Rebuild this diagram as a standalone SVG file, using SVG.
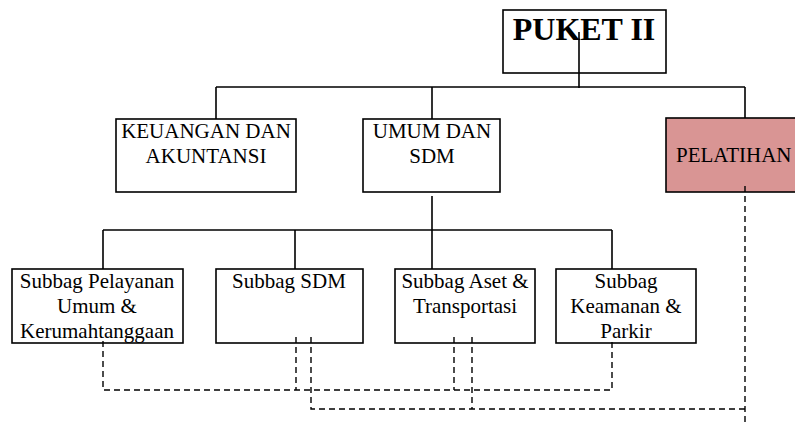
<svg xmlns="http://www.w3.org/2000/svg" width="795" height="425" viewBox="0 0 795 425">
<style>
.box{fill:#fff;stroke:#000;stroke-width:1.6}
.pink{fill:#d99594;stroke:#000;stroke-width:1.6}
text{font-family:"Liberation Serif","Times New Roman",serif;font-size:21px;fill:#000}
.title{font-size:32px;font-weight:bold}
.solid{fill:none;stroke:#000;stroke-width:1.6}
.dash{fill:none;stroke:#000;stroke-width:1.4;stroke-dasharray:6,4}
</style>
<rect width="795" height="425" fill="#fff"/>
<g id="puket">
<rect class="box" x="503" y="10" width="163" height="63"/>
<text class="title" x="584" y="40" text-anchor="middle">PUKET II</text>
</g>
<g id="keuangan">
<rect class="box" x="116" y="119" width="180" height="73"/>
<text x="206" y="138" text-anchor="middle">KEUANGAN DAN</text>
<text x="206" y="163" text-anchor="middle">AKUNTANSI</text>
</g>
<g id="umum">
<rect class="box" x="363" y="119" width="137" height="73"/>
<text x="432" y="138" text-anchor="middle">UMUM DAN</text>
<text x="432" y="163" text-anchor="middle">SDM</text>
</g>
<g id="pelatihan">
<rect class="pink" x="666" y="118" width="140" height="74"/>
<text x="676" y="162">PELATIHAN</text>
</g>
<g id="subbag-pelayanan">
<rect class="box" x="12" y="269" width="171" height="74"/>
<text x="97" y="288" text-anchor="middle">Subbag Pelayanan</text>
<text x="97" y="313" text-anchor="middle">Umum &amp;</text>
<text x="97" y="338" text-anchor="middle">Kerumahtanggaan</text>
</g>
<g id="subbag-sdm">
<rect class="box" x="216" y="269" width="147" height="74"/>
<text x="289" y="288" text-anchor="middle">Subbag SDM</text>
</g>
<g id="subbag-aset">
<rect class="box" x="395" y="269" width="140" height="74"/>
<text x="465" y="288" text-anchor="middle">Subbag Aset &amp;</text>
<text x="465" y="313" text-anchor="middle">Transportasi</text>
</g>
<g id="subbag-keamanan">
<rect class="box" x="556" y="269" width="140" height="74"/>
<text x="626" y="288" text-anchor="middle">Subbag</text>
<text x="626" y="313" text-anchor="middle">Keamanan &amp;</text>
<text x="626" y="338" text-anchor="middle">Parkir</text>
</g>
<g id="connectors">
<path class="solid" d="M579 32V88M216 87H745M216 87V119M432 87V119M745 87V118"/>
<path class="solid" d="M432 196V269M103 230H612M103 230V269M295 230V269M612 230V269"/>
<path class="dash" d="M103 341V390H612V339"/>
<path class="dash" d="M296 337V390M454 337V390"/>
<path class="dash" d="M311 337V409H745M472 337V409M745 186V424"/>
</g>
</svg>
